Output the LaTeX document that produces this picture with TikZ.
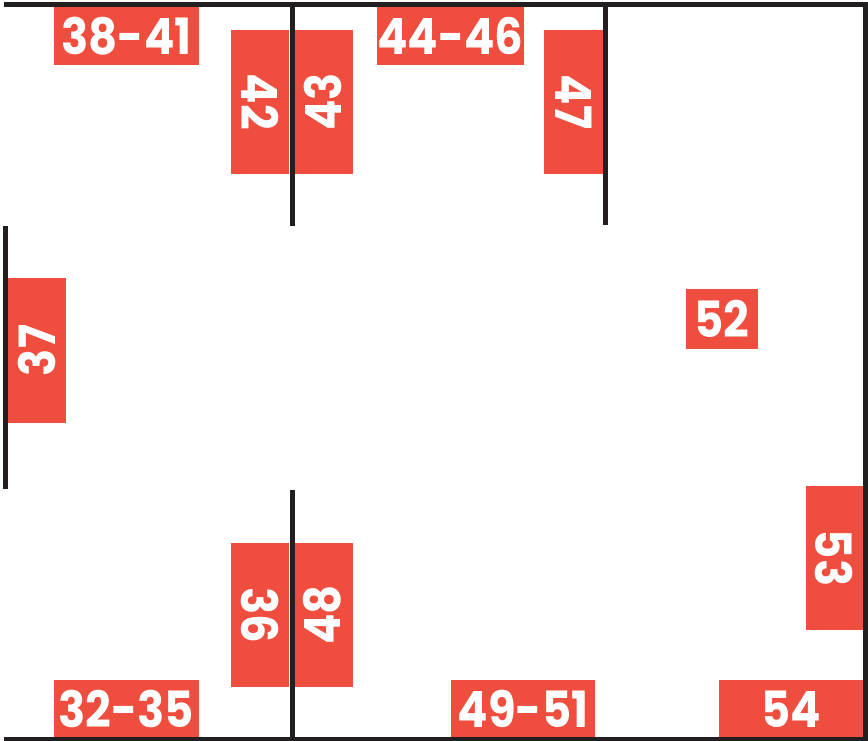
\documentclass[tikz,border=0pt]{standalone}
\usepackage{fontspec}
\newfontfamily\tagfont{Poppins}[FakeStretch=0.9]
\usepackage{tikz}
\definecolor{tagred}{RGB}{239,77,62}
\definecolor{wallgray}{RGB}{35,31,32}

\begin{document}
\begin{tikzpicture}[
    x=1pt, y=-1pt,
    tag/.style={
      fill=tagred,
      text=white,
      inner sep=0pt,
      minimum width=145pt,
      minimum height=58pt,
      font=\tagfont\bfseries\fontsize{50}{50}\selectfont
    },
    tagcw/.style={tag, rotate=-90, minimum width=144pt},
    tagccw/.style={tag, rotate=90, minimum width=144pt},
    wall/.style={draw=wallgray, line width=5pt}
  ]
    \useasboundingbox (0,0) rectangle (868,741);

    % top row
    \node[tag] (t3841) at (126.5,36) {38-41};
    \node[tag] (t4446) at (450.5,36) {44-46};
    \node[tagcw, minimum height=58pt] (t42) at (260,102) {42};
    \node[tagccw, minimum height=61pt] (t43) at (322.5,102) {43};
    \node[tagcw, minimum height=59pt] (t47) at (573.5,102) {47};

    % middle
    \node[tagccw, minimum height=58pt, minimum width=145pt] (t37) at (37,350.5) {37};
    \node[tag, minimum width=72pt, minimum height=60pt] (t52) at (722,319) {52};
    \node[tagcw, minimum height=57pt] (t53) at (834.5,558) {53};

    % bottom row
    \node[tagcw, minimum height=58pt] (t36) at (260,615) {36};
    \node[tagccw, minimum height=61pt] (t48) at (322.5,615) {48};
    \node[tag] (t3235) at (126.5,709) {32-35};
    \node[tag, minimum width=144pt] (t4951) at (523,709) {49-51};
    \node[tag, minimum width=144pt] (t54) at (791,709) {54};

    % walls
    \draw[wall] (4,4.5) -- (865.5,4.5) -- (865.5,741);
    \draw[wall] (4,739) -- (868,739);
    \draw[wall] (5.5,226) -- (5.5,489);
    \draw[wall] (292,4.5) -- (292,226);
    \draw[wall] (292,490) -- (292,739);
    \draw[wall] (605,4.5) -- (605,225);
  \end{tikzpicture}
\end{document}
